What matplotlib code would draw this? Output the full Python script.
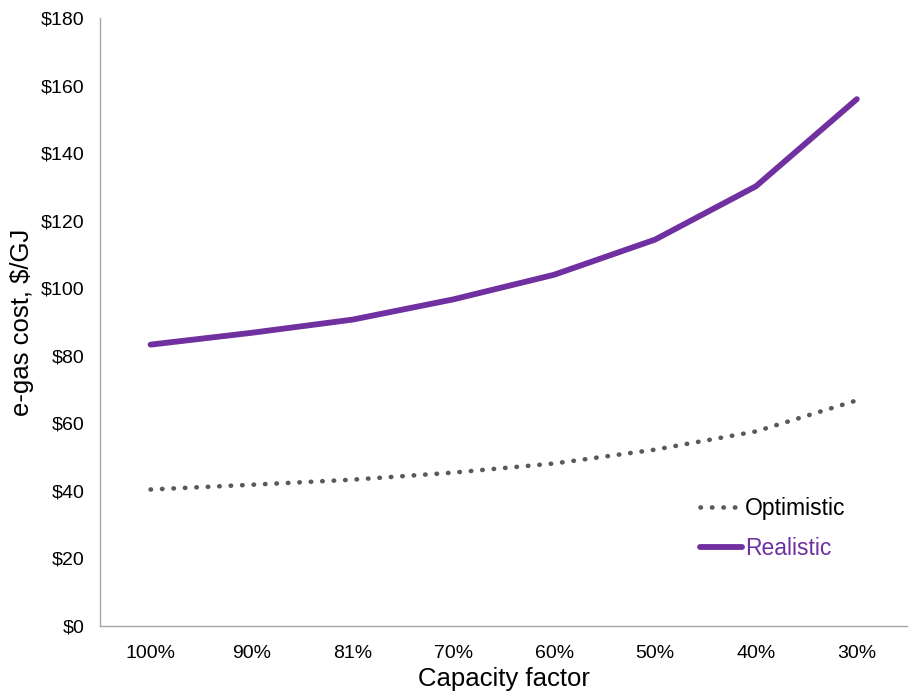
import matplotlib
matplotlib.use('Agg')
import matplotlib.pyplot as plt

plt.rcParams['font.family'] = ['Liberation Sans', 'DejaVu Sans']

# data
categories = ['100%', '90%', '81%', '70%', '60%', '50%', '40%', '30%']
optimistic = [40.4, 41.8, 43.3, 45.4, 48.1, 52.2, 57.6, 66.8]
realistic = [83.3, 86.8, 90.7, 96.7, 104.0, 114.4, 130.2, 156.0]

purple = '#7030A0'
grey = '#595959'

fig = plt.figure(figsize=(9.10, 6.97), dpi=100)
ax = fig.add_axes((0.110, 0.102, 0.887, 0.872))

x = list(range(len(categories)))
ax.plot(x, optimistic, color=grey, lw=3.3, linestyle=(0, (0.1, 2.4)),
        dash_capstyle='round', label='Optimistic')
ax.plot(x, realistic, color=purple, lw=4.2, solid_capstyle='round',
        label='Realistic')

ax.set_xlim(-0.5, 7.5)
ax.set_ylim(0, 180)
ax.set_yticks(range(0, 181, 20))
ax.set_yticklabels(['${}'.format(v) for v in range(0, 181, 20)])
ax.set_xticks(x)
ax.set_xticklabels(categories)
ax.tick_params(axis='x', length=0, labelsize=14, pad=14)
ax.tick_params(axis='y', length=0, labelsize=14, pad=11)

for side in ['top', 'right']:
    ax.spines[side].set_visible(False)
for side in ['left', 'bottom']:
    ax.spines[side].set_color('#A6A6A6')
    ax.spines[side].set_linewidth(1.0)

ax.set_xlabel('Capacity factor', fontsize=18.5, labelpad=3)
ax.set_ylabel('e-gas cost, $/GJ', fontsize=18.5, labelpad=5)

leg = ax.legend(loc='upper left', bbox_to_anchor=(0.759, 0.300),
                bbox_transform=fig.transFigure, borderaxespad=0,
                frameon=False, fontsize=16.5, handlelength=1.85,
                handletextpad=0.12, labelspacing=0.75)
leg.get_texts()[1].set_color(purple)

fig.savefig('out.png', dpi=100)
